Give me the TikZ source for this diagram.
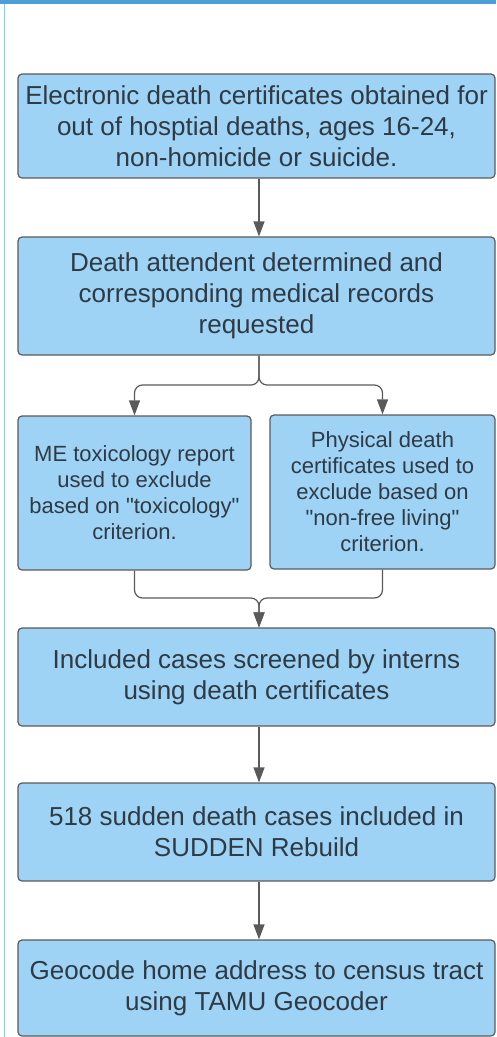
\documentclass[tikz,border=0pt]{standalone}
\usepackage{fontspec}
\setmainfont{Liberation Sans}
\usetikzlibrary{calc,arrows.meta}

\definecolor{boxfill}{HTML}{9ED3F5}
\definecolor{boxline}{HTML}{5A5A5A}
\definecolor{boxtext}{HTML}{2E3A44}
\definecolor{topbar}{HTML}{4C9ED9}
\definecolor{sideline}{HTML}{8EC6EE}

\tikzset{
    box/.style={draw=boxline, fill=boxfill, rounded corners=4pt, line width=1.2pt,
        text=boxtext, align=center, inner sep=0pt, font=\fontsize{26}{31}\selectfont},
    smallbox/.style={box, font=\fontsize{22}{26}\selectfont},
    link/.style={draw=boxline, line width=1.2pt, rounded corners=8pt,
        -{Triangle[width=11pt,length=15pt]}}
}

\begin{document}
\begin{tikzpicture}[x=1pt,y=-1pt]
            \useasboundingbox (0,0) rectangle (496,1037);
            \fill [topbar] (0,0) rectangle (496,4);
            \draw [sideline, line width=1.5pt] (4.5,4) -- (4.5,1037);

            \coordinate (spine) at (259,0);
            \coordinate (fork) at (259,385);
            \coordinate (join) at (259,598);

            \node (cert) at (256.5,126) [box, minimum width=477pt, minimum height=104pt]
                {Electronic death certificates obtained for\\out of hosptial deaths, ages 16-24,\\non-homicide or suicide.};
            \node (attend) at (256.5,296) [box, minimum width=477pt, minimum height=118pt]
                {Death attendent determined and\\corresponding medical records\\requested};
            \node (tox) at (134.5,493) [smallbox, minimum width=233pt, minimum height=154pt]
                {ME toxicology report\\used to exclude\\based on \textquotedbl toxicology\textquotedbl\\criterion.};
            \node (phys) at (382.5,492) [smallbox, minimum width=225pt, minimum height=154pt]
                {Physical death\\certificates used to\\exclude based on\\\textquotedbl non-free living\textquotedbl\\criterion.};
            \node (screen) at (256.5,677) [box, minimum width=477pt, minimum height=98pt]
                {Included cases screened by interns\\using death certificates};
            \node (sudden) at (256.5,832) [box, minimum width=477pt, minimum height=98pt]
                {518 sudden death cases included in\\SUDDEN Rebuild};
            \node (geo) at (256.5,988) [box, minimum width=477pt, minimum height=96pt]
                {Geocode home address to census tract\\using TAMU Geocoder};

            \foreach \a/\b in {cert/attend, screen/sudden, sudden/geo}
                \draw [link] (\a.south -| spine) -- (\b.north -| spine);

            \foreach \n in {tox, phys}
                {
                    \draw [link] (attend.south -| spine) -- (fork) -| (\n.north);
                    \draw [link] (\n.south) |- (join) -- (screen.north -| spine);
                }

        \end{tikzpicture}
\end{document}
